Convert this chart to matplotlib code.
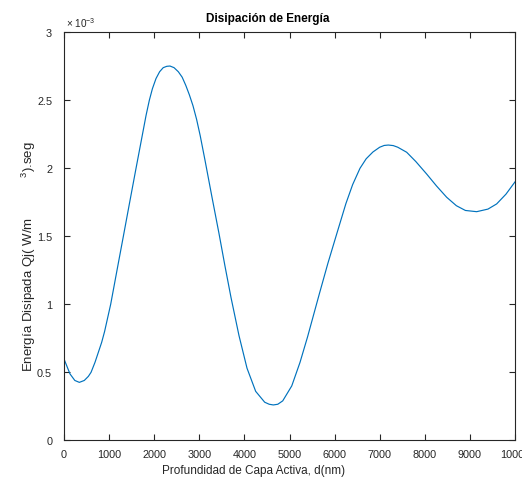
import matplotlib
matplotlib.use("Agg")
import matplotlib.pyplot as plt

plt.rcParams['font.family'] = ['Liberation Sans', 'DejaVu Sans']
plt.rcParams['mathtext.fontset'] = 'custom'
plt.rcParams['mathtext.rm'] = 'Liberation Sans'
plt.rcParams['mathtext.it'] = 'Liberation Sans'
plt.rcParams['mathtext.bf'] = 'Liberation Sans:bold'

# Depth (nm)
depth_nm = [0, 133, 240, 340, 450, 540, 600, 687, 835, 900, 1035, 1175, 1316, 1456,
            1597, 1740, 1820, 1892, 1960, 2040, 2120, 2200, 2280, 2350, 2440, 2535,
            2620, 2700, 2780, 2860, 2940, 3020, 3126, 3280, 3437, 3570, 3703, 3880,
            4058, 4250, 4450, 4550, 4641, 4740, 4850, 5050, 5233, 5400, 5661, 5850,
            6031, 6250, 6400, 6563, 6700, 6850, 7000, 7100, 7191, 7300, 7400, 7598,
            7800, 8041, 8260, 8485, 8700, 8900, 9150, 9400, 9593, 9800, 10000]
# Dissipated energy (x 1e-3)
energy_e3 = [0.598, 0.488, 0.44, 0.426, 0.44, 0.47, 0.50, 0.573, 0.72, 0.80, 1.0, 1.25, 1.5, 1.75,
             2.0, 2.25, 2.39, 2.5, 2.585, 2.66, 2.71, 2.74, 2.75, 2.752, 2.74, 2.71,
             2.67, 2.61, 2.54, 2.46, 2.36, 2.24, 2.06, 1.79, 1.52, 1.28, 1.05, 0.77,
             0.53, 0.36, 0.28, 0.265, 0.26, 0.265, 0.29, 0.40, 0.573, 0.76, 1.076, 1.30,
             1.50, 1.74, 1.88, 2.0, 2.07, 2.12, 2.155, 2.168, 2.171, 2.167, 2.155, 2.118,
             2.05, 1.958, 1.87, 1.787, 1.725, 1.69, 1.681, 1.70, 1.738, 1.81, 1.90]

xticks = [0, 1000, 2000, 3000, 4000, 5000, 6000, 7000, 8000, 9000, 10000]
yticks = [0, 0.5, 1, 1.5, 2, 2.5, 3]
ytick_labels = ['0', '0.5', '1', '1.5', '2', '2.5', '3']

W, H = 522, 481
fig = plt.figure(figsize=(W / 100, H / 100), dpi=100)
ax = fig.add_axes([64 / W, 1 - 441.3 / H, (515 - 64) / W, (441.3 - 33.3) / H])

ax.plot(depth_nm, energy_e3, color='#0072BD', lw=0.85)
ax.set_xlim(0, 10000)
ax.set_ylim(0, 3)
ax.set_xticks(xticks)
ax.set_xticklabels([str(t) for t in xticks])
ax.set_yticks(yticks)
ax.set_yticklabels(ytick_labels)

gray = '#262626'
for s in ax.spines.values():
    s.set_color(gray)
    s.set_linewidth(0.8)
ax.tick_params(direction='in', length=4.5, width=0.8, colors=gray, labelsize=7.8,
               top=True, right=True)
ax.tick_params(axis='x', pad=6)
ax.tick_params(axis='y', pad=8.5)

fig.text(268 / W, 1 - 22 / H, 'Disipación de Energía', fontsize=8.5, fontweight='bold',
         ha='center', va='baseline', color='black')
fig.text(254 / W, 1 - 474 / H, 'Profundidad de Capa Activa, d(nm)', fontsize=8.5,
         ha='center', va='baseline', color=gray)
fig.text(33 / W, 1 - 372 / H, 'Energía Disipada Qj( W/m' + ' ' * 11 + '${}^{3}$).seg',
         rotation=90, rotation_mode='anchor', ha='left', va='baseline', fontsize=9.5, color=gray)
fig.text(66 / W, 1 - 28 / H, '× 10$^{-3}$', fontsize=7.2, color=gray, ha='left', va='baseline')

fig.savefig('out.png', dpi=100)
